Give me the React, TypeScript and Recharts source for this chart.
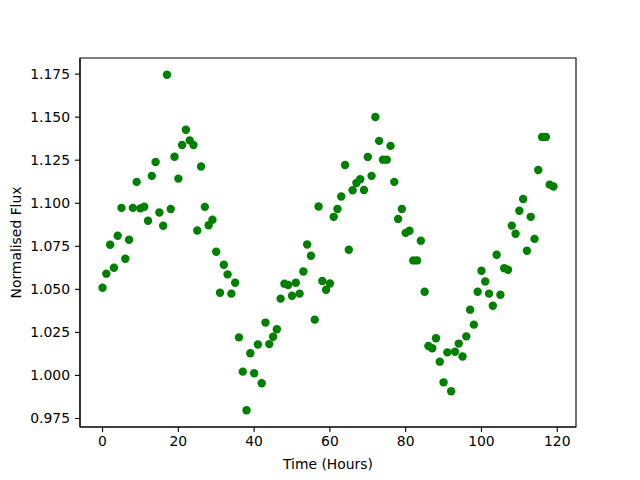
import React from "react";
import { ScatterChart, Scatter, XAxis, YAxis, ReferenceArea } from "recharts";

// Hours since start of observation
const hours = [
  0, 1, 2, 3, 4, 5, 6, 7, 8, 9, 10, 11, 12, 13, 14, 15, 16, 17, 18, 19,
  20, 21, 22, 23, 24, 25, 26, 27, 28, 29, 30, 31, 32, 33, 34, 35, 36, 37, 38, 39,
  40, 41, 42, 43, 44, 45, 46, 47, 48, 49, 50, 51, 52, 53, 54, 55, 56, 57, 58, 59,
  60, 61, 62, 63, 64, 65, 66, 67, 68, 69, 70, 71, 72, 73, 74, 75, 76, 77, 78, 79,
  80, 81, 82, 83, 84, 85, 86, 87, 88, 89, 90, 91, 92, 93, 94, 95, 96, 97, 98, 99,
  100, 101, 102, 103, 104, 105, 106, 107, 108, 109, 110, 111, 112, 113, 114, 115, 116, 117, 118, 119,
];

// Normalised flux
const flux = [
  1.0509, 1.0591, 1.0759, 1.0625, 1.0811, 1.0973, 1.0678, 1.0788, 1.0973, 1.1124,
  1.097, 1.098, 1.0898, 1.1159, 1.124, 1.0946, 1.0869, 1.1746, 1.0967, 1.127,
  1.1143, 1.1338, 1.1427, 1.1365, 1.1338, 1.0842, 1.1213, 1.0979, 1.0872, 1.0904,
  1.0718, 1.048, 1.0643, 1.0587, 1.0475, 1.0538, 1.0221, 1.0022, 0.9798, 1.0129,
  1.0013, 1.018, 0.9955, 1.0307, 1.0182, 1.0225, 1.0268, 1.0446, 1.0533, 1.0525,
  1.0463, 1.0538, 1.0475, 1.0604, 1.076, 1.0695, 1.0324, 1.0981, 1.0548, 1.0498,
  1.0534, 1.0921, 1.0967, 1.1039, 1.1222, 1.073, 1.1075, 1.1118, 1.1139, 1.1077,
  1.1269, 1.1159, 1.1501, 1.1362, 1.1253, 1.1253, 1.1333, 1.1124, 1.0909, 1.0967,
  1.0828, 1.084, 1.0668, 1.0668, 1.0782, 1.0486, 1.0171, 1.0158, 1.0216, 1.008,
  0.996, 1.0134, 0.9908, 1.0138, 1.0185, 1.011, 1.0227, 1.0382, 1.0295, 1.0486,
  1.0608, 1.0546, 1.0475, 1.0405, 1.0701, 1.0469, 1.0623, 1.0614, 1.087, 1.0823,
  1.0956, 1.1025, 1.0724, 1.0921, 1.0793, 1.1193, 1.1385, 1.1385, 1.1108, 1.1097,
];

const xTicks = [0, 20, 40, 60, 80, 100, 120];
const yTicks = [0.975, 1.0, 1.025, 1.05, 1.075, 1.1, 1.125, 1.15, 1.175];

const X_DOMAIN: [number, number] = [-5.95, 124.95];
const Y_DOMAIN: [number, number] = [0.97006, 1.18434];

const FONT = "DejaVu Sans, sans-serif";
const tickStyle = { fontSize: 13.9, fill: "#000", fontFamily: FONT };

const data = hours.map((h, i) => ({ hour: h, flux: flux[i] }));

const Dot = (props: any) => {
  const { cx, cy } = props;
  return <circle cx={cx} cy={cy} r={4.2} fill="#008000" />;
};

export default function App() {
  return (
    <div style={{ position: "absolute", left: 0, top: 0, background: "#fff" }}>
      <ScatterChart
        width={640}
        height={480}
        margin={{ top: 58, right: 64, bottom: 0, left: 0 }}
      >
        <XAxis
          type="number"
          dataKey="hour"
          domain={X_DOMAIN}
          ticks={xTicks}
          allowDataOverflow
          height={53}
          tick={tickStyle}
          tickSize={5}
          tickMargin={4}
          stroke="#000"
          axisLine={{ stroke: "#000", strokeWidth: 1.1 }}
          tickLine={{ stroke: "#000", strokeWidth: 1.1 }}
          label={{
            value: "Time (Hours)",
            position: "insideBottom",
            offset: 11,
            style: { fontSize: 13.9, fill: "#000", fontFamily: FONT },
          }}
        />
        <YAxis
          type="number"
          dataKey="flux"
          domain={Y_DOMAIN}
          ticks={yTicks}
          allowDataOverflow
          width={80}
          tick={tickStyle}
          tickSize={5}
          tickMargin={5}
          tickFormatter={(v: number) => v.toFixed(3)}
          stroke="#000"
          axisLine={{ stroke: "#000", strokeWidth: 1.1 }}
          tickLine={{ stroke: "#000", strokeWidth: 1.1 }}
          label={{
            value: "Normalised Flux",
            angle: -90,
            position: "insideLeft",
            offset: 16,
            style: { fontSize: 13.9, fill: "#000", fontFamily: FONT, textAnchor: "middle" },
          }}
        />
        <ReferenceArea
          x1={X_DOMAIN[0]}
          x2={X_DOMAIN[1]}
          y1={Y_DOMAIN[0]}
          y2={Y_DOMAIN[1]}
          fill="none"
          stroke="#000"
          strokeWidth={1.1}
          fillOpacity={0}
        />
        <Scatter data={data} shape={<Dot />} isAnimationActive={false} />
      </ScatterChart>
    </div>
  );
}
